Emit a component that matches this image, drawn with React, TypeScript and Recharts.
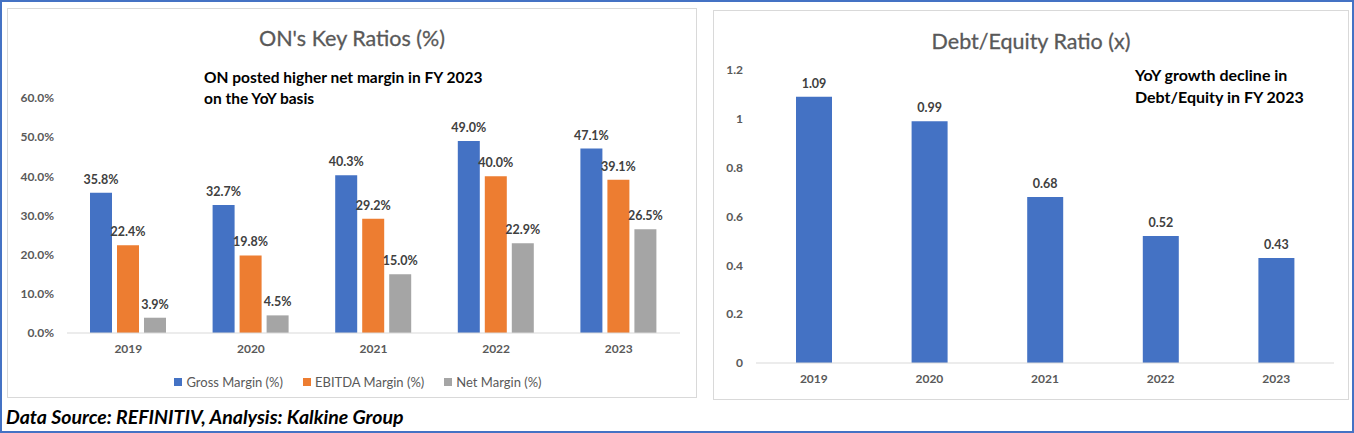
import React from 'react';
import { BarChart, Bar, XAxis, YAxis, LabelList } from 'recharts';

const years = ['2019', '2020', '2021', '2022', '2023'];
const grossMargin = [35.8, 32.7, 40.3, 49.0, 47.1];
const ebitdaMargin = [22.4, 19.8, 29.2, 40.0, 39.1];
const netMargin = [3.9, 4.5, 15.0, 22.9, 26.5];
const ratioTicks = [0, 10, 20, 30, 40, 50, 60];

const debtEquity = [1.09, 0.99, 0.68, 0.52, 0.43];
const debtTicks = [0, 0.2, 0.4, 0.6, 0.8, 1, 1.2];

const FONT = 'Lato, "Open Sans", sans-serif';
const BLUE = '#4472C4';
const ORANGE = '#ED7D31';
const GRAY = '#A5A5A5';

const ratioData = years.map((y, i) => ({
  year: y,
  gross: grossMargin[i],
  ebitda: ebitdaMargin[i],
  net: netMargin[i],
}));

const debtData = years.map((y, i) => ({ year: y, de: debtEquity[i] }));

const tickStyle = { fontSize: 12, fontWeight: 700, fill: '#595959', fontFamily: FONT };
const labelStyle = { fontSize: 12.5, fontWeight: 700, fill: '#404040', fontFamily: FONT };

const pct = (v: number) => `${v.toFixed(1)}%`;

const legendItems = [
  { name: 'Gross Margin (%)', color: BLUE },
  { name: 'EBITDA Margin (%)', color: ORANGE },
  { name: 'Net Margin (%)', color: GRAY },
];

export default function App() {
  return (
    <div
      style={{
        position: 'absolute',
        left: 0,
        top: 0,
        width: 1354,
        height: 433,
        boxSizing: 'border-box',
        border: `2px solid ${BLUE}`,
        background: '#fff',
        fontFamily: FONT,
        overflow: 'hidden',
      }}
    >
      {/* left panel */}
      <div
        style={{
          position: 'absolute',
          left: 5,
          top: 6,
          width: 690,
          height: 390,
          boxSizing: 'border-box',
          border: '1px solid #D9D9D9',
        }}
      >
        <BarChart
          width={688}
          height={388}
          data={ratioData}
          margin={{ top: 89, right: 16, left: 0, bottom: 34 }}
          barCategoryGap={23}
          barGap={5}
        >
          <XAxis
            dataKey="year"
            height={30}
            axisLine={{ stroke: '#D9D9D9' }}
            tickLine={false}
            tickSize={0}
            tickMargin={11}
            tick={tickStyle}
          />
          <YAxis
            width={59}
            domain={[0, 60]}
            ticks={ratioTicks}
            tickFormatter={pct}
            axisLine={false}
            tickLine={false}
            tickSize={0}
            tickMargin={13}
            tick={tickStyle}
          />
          <Bar dataKey="gross" fill={BLUE} isAnimationActive={false}>
            <LabelList dataKey="gross" position="top" offset={9} formatter={pct} style={labelStyle} />
          </Bar>
          <Bar dataKey="ebitda" fill={ORANGE} isAnimationActive={false}>
            <LabelList dataKey="ebitda" position="top" offset={9} formatter={pct} style={labelStyle} />
          </Bar>
          <Bar dataKey="net" fill={GRAY} isAnimationActive={false}>
            <LabelList dataKey="net" position="top" offset={9} formatter={pct} style={labelStyle} />
          </Bar>
        </BarChart>
        <div
          style={{
            position: 'absolute',
            left: 0,
            right: 0,
            top: 16,
            textAlign: 'center',
            fontSize: 21.5,
            color: '#595959',
            WebkitTextStroke: '0.3px #595959',
          }}
        >
          ON's Key Ratios (%)
        </div>
        <div
          style={{
            position: 'absolute',
            left: 196,
            top: 58,
            fontSize: 15.5,
            fontWeight: 700,
            lineHeight: '21px',
            color: '#000',
          }}
        >
          ON posted higher net margin in FY 2023
          <br />
          on the YoY basis
        </div>
        <div
          style={{
            position: 'absolute',
            left: 0,
            top: 365,
            width: 700,
            display: 'flex',
            justifyContent: 'center',
            gap: 20,
            fontSize: 13,
            color: '#595959',
          }}
        >
          {legendItems.map((it) => (
            <span key={it.name} style={{ display: 'flex', alignItems: 'center', gap: 4 }}>
              <span style={{ width: 8, height: 8, background: it.color, display: 'inline-block' }} />
              {it.name}
            </span>
          ))}
        </div>
      </div>

      {/* right panel */}
      <div
        style={{
          position: 'absolute',
          left: 711,
          top: 8,
          width: 636,
          height: 390,
          boxSizing: 'border-box',
          border: '1px solid #D9D9D9',
        }}
      >
        <BarChart
          width={634}
          height={388}
          data={debtData}
          margin={{ top: 59, right: 14, left: 0, bottom: 6 }}
          barSize={36}
        >
          <XAxis
            dataKey="year"
            height={30}
            axisLine={{ stroke: '#D9D9D9' }}
            tickLine={false}
            tickSize={0}
            tickMargin={11}
            tick={tickStyle}
          />
          <YAxis
            width={42}
            domain={[0, 1.2]}
            ticks={debtTicks}
            axisLine={false}
            tickLine={false}
            tickSize={0}
            tickMargin={13}
            tick={tickStyle}
          />
          <Bar dataKey="de" fill={BLUE} isAnimationActive={false}>
            <LabelList
              dataKey="de"
              position="top"
              offset={9}
              formatter={(v: number) => v.toFixed(2)}
              style={labelStyle}
            />
          </Bar>
        </BarChart>
        <div
          style={{
            position: 'absolute',
            left: 0,
            right: 0,
            top: 17,
            textAlign: 'center',
            fontSize: 21.5,
            color: '#595959',
            WebkitTextStroke: '0.3px #595959',
          }}
        >
          Debt/Equity Ratio (x)
        </div>
        <div
          style={{
            position: 'absolute',
            left: 421,
            top: 53,
            fontSize: 16,
            fontWeight: 700,
            lineHeight: '22px',
            color: '#000',
          }}
        >
          YoY growth decline in
          <br />
          Debt/Equity in FY 2023
        </div>
      </div>

      <div
        style={{
          position: 'absolute',
          left: 4,
          top: 403,
          fontSize: 19.5,
          fontWeight: 700,
          fontStyle: 'italic',
          color: '#000',
          whiteSpace: 'nowrap',
        }}
      >
        Data Source: REFINITIV, Analysis: Kalkine Group
      </div>
    </div>
  );
}
